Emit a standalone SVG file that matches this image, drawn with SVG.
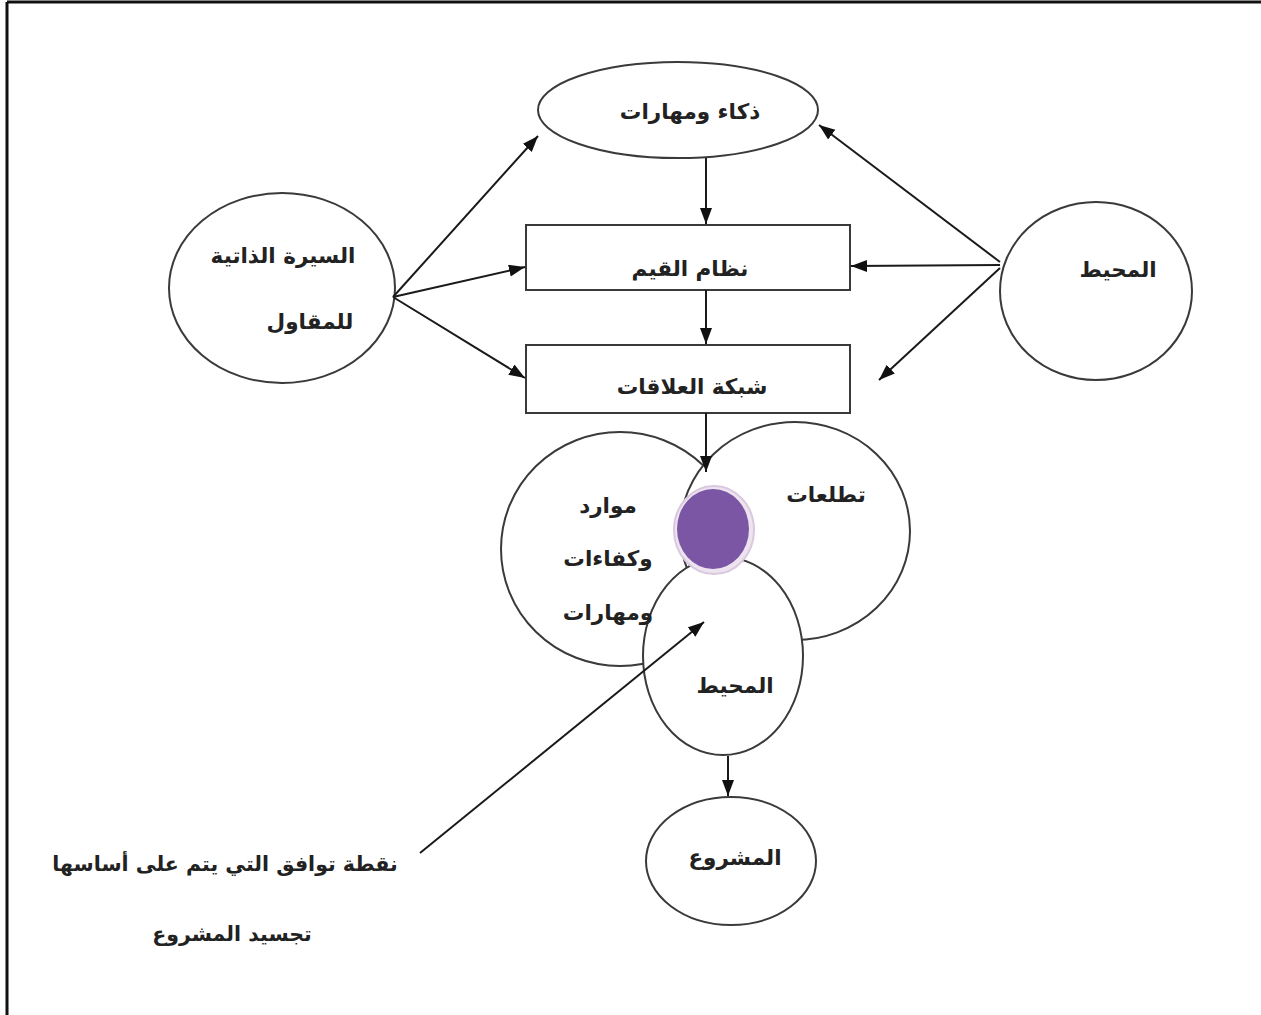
<svg xmlns="http://www.w3.org/2000/svg" width="1261" height="1015" viewBox="0 0 1261 1015">
<defs>
<marker id="ah" markerUnits="userSpaceOnUse" markerWidth="18" markerHeight="14" refX="16" refY="6" orient="auto">
<path d="M0,0 L16,6 L0,12 z" fill="#111"/>
</marker>
<style>
.shape{fill:#fff;stroke:#3a3a3a;stroke-width:2}
.conn{stroke:#1a1a1a;stroke-width:2;fill:none;marker-end:url(#ah)}
.t{font-family:"DejaVu Sans",sans-serif;font-size:21.5px;font-weight:bold;fill:#222;text-anchor:middle}
.n{font-size:20.5px}
</style>
</defs>
<rect x="0" y="0" width="1261" height="1015" fill="#fff"/>
<g id="frame">
<line x1="7" y1="2" x2="1261" y2="2" stroke="#111" stroke-width="3"/>
<line x1="7" y1="2" x2="7" y2="1015" stroke="#111" stroke-width="3"/>
</g>
<g id="node-intel">
<ellipse class="shape" cx="678" cy="110" rx="140" ry="48"/>
<text class="t" x="690" y="119">ذكاء ومهارات</text>
</g>
<g id="node-values">
<rect class="shape" x="526" y="225" width="324" height="65"/>
<text class="t" x="690" y="276">نظام القيم</text>
</g>
<g id="node-network">
<rect class="shape" x="526" y="345" width="324" height="68"/>
<text class="t" x="692" y="394">شبكة العلاقات</text>
</g>
<g id="node-cv">
<ellipse class="shape" cx="282" cy="288" rx="113" ry="95"/>
<text class="t" x="283" y="263">السيرة الذاتية</text>
<text class="t" x="310" y="329">للمقاول</text>
</g>
<g id="node-env">
<ellipse class="shape" cx="1096" cy="291" rx="96" ry="89"/>
<text class="t" x="1118" y="277">المحيط</text>
</g>
<g id="node-resources">
<ellipse class="shape" cx="620" cy="549" rx="119" ry="117"/>
</g>
<g id="node-aspirations">
<ellipse class="shape" cx="795" cy="531" rx="115" ry="109"/>
</g>
<g id="node-env2">
<ellipse class="shape" cx="723" cy="656" rx="80" ry="99"/>
</g>
<g id="node-point">
<ellipse cx="714" cy="530" rx="40" ry="44" fill="#eee4f0" stroke="#d9c8df" stroke-width="2"/>
<ellipse cx="713" cy="529" rx="36" ry="40" fill="#7a56a4"/>
</g>
<g id="cluster-labels">
<text class="t" x="608" y="513">موارد</text>
<text class="t" x="608" y="566">وكفاءات</text>
<text class="t" x="608" y="620">ومهارات</text>
<text class="t" x="826" y="502">تطلعات</text>
<text class="t" x="735" y="693">المحيط</text>
</g>
<g id="node-project">
<ellipse class="shape" cx="731" cy="861" rx="85" ry="64"/>
<text class="t" x="735" y="865">المشروع</text>
</g>
<g id="note">
<text class="t n" x="225" y="871">نقطة توافق التي يتم على أساسها</text>
<text class="t n" x="232" y="941">تجسيد المشروع</text>
</g>
<g id="connectors">
<line class="conn" x1="706" y1="158" x2="706" y2="224"/>
<line class="conn" x1="706" y1="290" x2="706" y2="344"/>
<line class="conn" x1="706" y1="413" x2="706" y2="472"/>
<line class="conn" x1="393" y1="297" x2="538" y2="136"/>
<line class="conn" x1="393" y1="297" x2="525" y2="267"/>
<line class="conn" x1="393" y1="297" x2="525" y2="378"/>
<line class="conn" x1="1000" y1="262" x2="819" y2="125"/>
<line class="conn" x1="1000" y1="265" x2="851" y2="266"/>
<line class="conn" x1="1000" y1="268" x2="879" y2="380"/>
<line class="conn" x1="728" y1="756" x2="728" y2="796"/>
<line class="conn" x1="420" y1="853" x2="704" y2="622"/>
</g>
</svg>
